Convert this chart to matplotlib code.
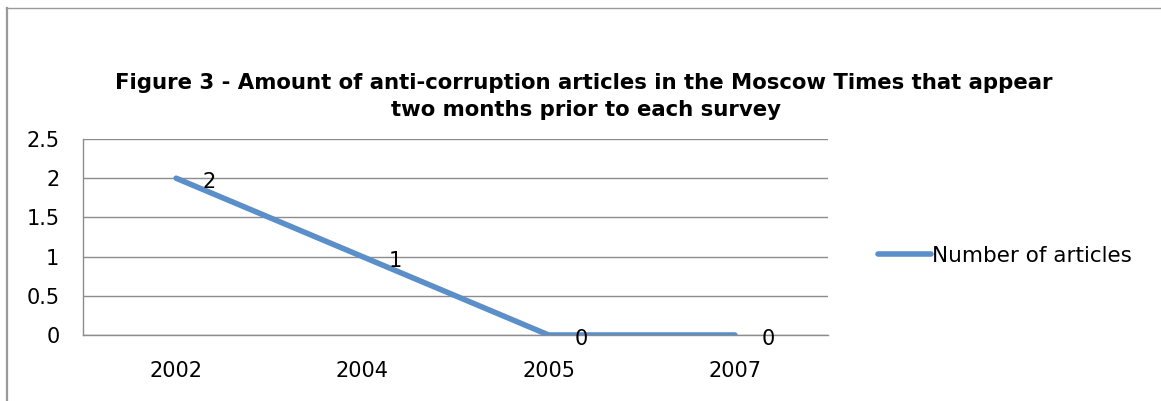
import matplotlib.pyplot as plt
from matplotlib.lines import Line2D

plt.rcParams["font.family"] = ["DejaVu Sans"]

years = ["2002", "2004", "2005", "2007"]
articles = [2, 1, 0, 0]
y_ticks = [0, 0.5, 1, 1.5, 2, 2.5]
y_tick_labels = ["0", "0.5", "1", "1.5", "2", "2.5"]

W, H = 1161, 401
fig = plt.figure(figsize=(W / 100, H / 100), dpi=100)
fig.patch.set_facecolor("white")

# outer chart border (only top and left edges are visible in the crop)
fig.add_artist(Line2D([6 / W, 1], [1 - 8 / H, 1 - 8 / H], transform=fig.transFigure,
                      color="#9a9a9a", lw=1))
fig.add_artist(Line2D([7 / W, 7 / W], [0, 1 - 8 / H], transform=fig.transFigure,
                      color="#9a9a9a", lw=1.6))

left, right, top, bottom = 83, 828, 139, 335
ax = fig.add_axes([left / W, 1 - bottom / H, (right - left) / W, (bottom - top) / H])

x = list(range(len(years)))
blue = "#5b8fc9"
line, = ax.plot(x, articles, color=blue, lw=4, solid_capstyle="round",
                label="Number of articles", zorder=3)
for xi, v in zip(x, articles):
    ax.annotate(str(v), (xi, v), xytext=(33, -4), textcoords="offset pixels",
                ha="center", va="center", fontsize=15, color="black", zorder=4)

ax.set_xlim(-0.5, len(years) - 0.5)
ax.set_ylim(0, 2.5)
ax.set_xticks(x)
ax.set_xticklabels(years)
ax.set_yticks(y_ticks)
ax.set_yticklabels(y_tick_labels)
ax.tick_params(length=0, labelsize=15, pad=17)
ax.tick_params(axis="x", pad=19)
ax.yaxis.grid(True, color="#8c8c8c", lw=1)
ax.set_axisbelow(True)
for s in ["top", "right"]:
    ax.spines[s].set_visible(False)
for s in ["left", "bottom"]:
    ax.spines[s].set_color("#8c8c8c")
    ax.spines[s].set_linewidth(1)

fig.text(584 / W, 1 - 83 / H,
         "Figure 3 - Amount of anti-corruption articles in the Moscow Times that appear",
         ha="center", va="center", fontsize=15.3, fontweight="bold")
fig.text(586 / W, 1 - 110 / H, "two months prior to each survey",
         ha="center", va="center", fontsize=15.3, fontweight="bold")

fig.legend(handles=[line], loc="center left", bbox_to_anchor=(878 / W, 1 - 256 / H),
           frameon=False, fontsize=15.5, handlelength=2.45, handletextpad=0.05,
           borderaxespad=0, borderpad=0)

fig.savefig("out.png", dpi=100)
